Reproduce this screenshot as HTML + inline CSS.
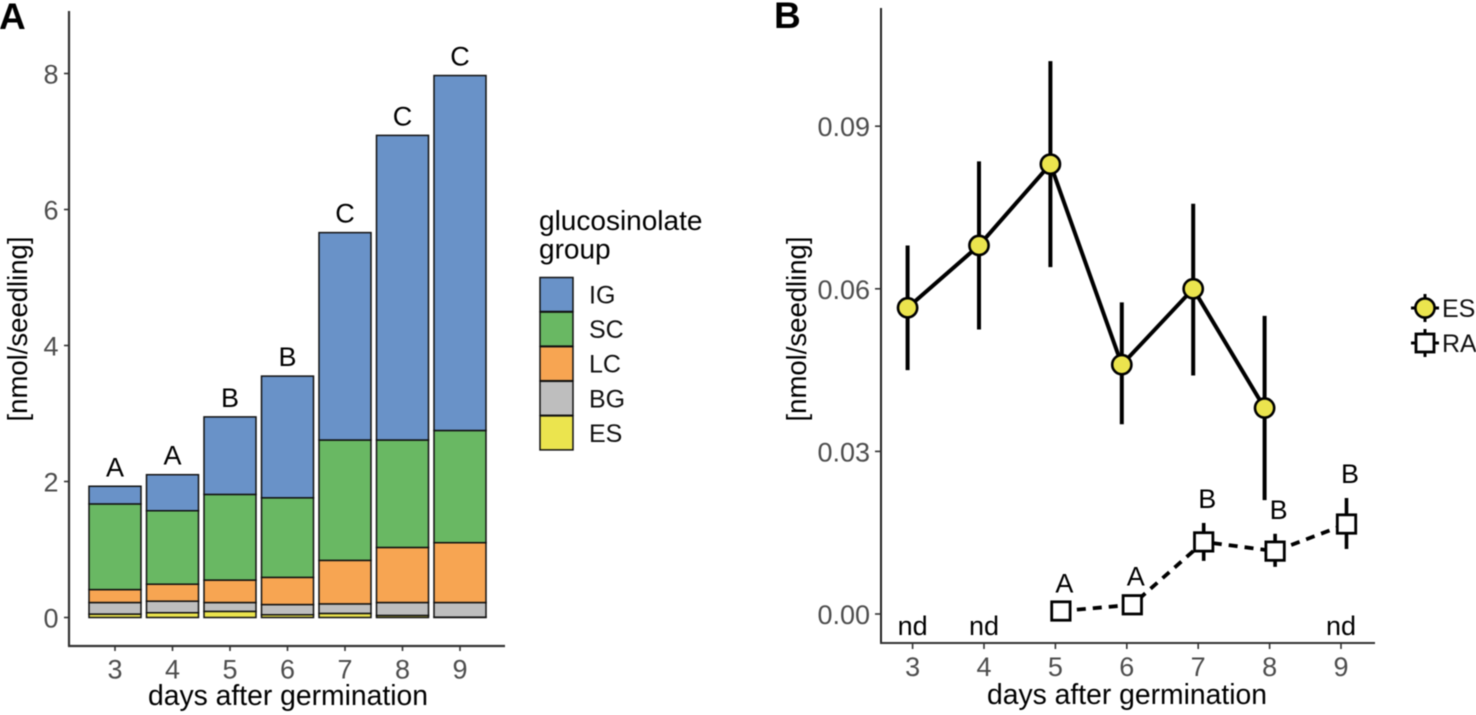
<!DOCTYPE html>
<html>
<head>
<meta charset="utf-8">
<style>
html,body{margin:0;padding:0;background:#fff;width:1476px;height:715px;overflow:hidden}
svg{display:block;font-family:"Liberation Sans",sans-serif;filter:blur(0.45px)}
</style>
</head>
<body>
<svg id="fig" width="1476" height="715" viewBox="0 0 1476 715" xmlns="http://www.w3.org/2000/svg"></svg>
<script>
// Panel A data
const days = [3, 4, 5, 6, 7, 8, 9];
const groupNames = ["ES", "BG", "LC", "SC", "IG"];
const valuesES = [0.05, 0.07, 0.09, 0.04, 0.06, 0.03, 0.005];
const valuesBG = [0.17, 0.17, 0.13, 0.15, 0.14, 0.19, 0.215];
const valuesLC = [0.19, 0.25, 0.33, 0.40, 0.64, 0.81, 0.88];
const valuesSC = [1.26, 1.08, 1.26, 1.17, 1.77, 1.58, 1.65];
const valuesIG = [0.26, 0.53, 1.14, 1.79, 3.05, 4.48, 5.22];
const barLetters = ["A", "A", "B", "B", "C", "C", "C"];
const ticksA = [0, 2, 4, 6, 8];
// Panel B data
const esDays = [3, 4, 5, 6, 7, 8];
const esMean = [0.0565, 0.068, 0.083, 0.046, 0.060, 0.038];
const esLow = [0.045, 0.0525, 0.064, 0.035, 0.044, 0.021];
const esHigh = [0.068, 0.0835, 0.102, 0.0575, 0.0757, 0.055];
const raDays = [5, 6, 7, 8, 9];
const raMean = [0.00055, 0.0017, 0.0133, 0.0116, 0.0166];
const raLow = [0.0002, 0.0015, 0.0098, 0.0087, 0.0120];
const raHigh = [0.00116, 0.00245, 0.0168, 0.0148, 0.0214];
const raLetters = ["A", "A", "B", "B", "B"];
const ticksB = [0, 0.03, 0.06, 0.09];
const ndDays = [3, 4, 9];

const svg = document.getElementById('fig');
const NS = 'http://www.w3.org/2000/svg';
const colors = {ES:'#ebe44e', BG:'#bebebe', LC:'#f7a552', SC:'#69b863', IG:'#6992c8'};
const seriesByGroup = {ES:valuesES, BG:valuesBG, LC:valuesLC, SC:valuesSC, IG:valuesIG};

const xA = d => 115 + (d - 3) * 57.5;
const yA = v => 617.5 - v * 68;
const xB = d => 912.6 + (d - 3) * 71.4;
const yB = v => 614 - v * 5420;

function make(tag, attrs, text){
  const el = document.createElementNS(NS, tag);
  for (const k in attrs) el.setAttribute(k, attrs[k]);
  if (text !== undefined) el.textContent = text;
  svg.appendChild(el);
  return el;
}
function line(x1, y1, x2, y2, color, width){
  return make('line', {x1, y1, x2, y2, stroke:color, 'stroke-width':width});
}
function label(x, y, str, size, color, anchor, weight){
  return make('text', {x, y, 'font-size':size, fill:color, 'text-anchor':anchor || 'middle', 'font-weight':weight || 'normal'}, str);
}
let el;

// Panel letters
el = label(-1, 29, 'A', 37, '#000', 'start', 'bold');


el = label(774, 28, 'B', 37, '#000', 'start', 'bold');



// Panel A bars
const barW = 52;
days.forEach((d, i) => {
  let base = 0;
  groupNames.forEach(g => {
    const v = seriesByGroup[g][i];
    const top = base + v;
    el = make('rect', {x:xA(d) - barW / 2, y:yA(top), width:barW, height:yA(base) - yA(top), fill:colors[g], stroke:'#111', 'stroke-width':1.5});
    
    
    base = top;
  });
  el = label(xA(d), yA(base) - 10, barLetters[i], 27, '#000');
  
  
});

// Panel A axes
el = line(69, 11, 69, 646.5, '#333', 2.2);


el = line(68, 646, 505, 646, '#333', 2.2);


ticksA.forEach(t => {
  el = line(64, yA(t), 69, yA(t), '#333', 1.6);
  
  
  el = label(58.5, yA(t) + 10, String(t), 27, '#4d4d4d', 'end');
  
  
});
days.forEach(d => {
  el = line(xA(d), 646, xA(d), 651, '#333', 1.6);
  
  
  el = label(xA(d), 678.5, String(d), 27, '#4d4d4d');
  
  
});
el = label(288, 705, 'days after germination', 28.3, '#000');


el = label(0, 0, '[nmol/seedling]', 27.5, '#000');
el.setAttribute('transform', 'translate(27,329) rotate(-90)');



// Panel A legend
el = label(539, 230, 'glucosinolate', 28, '#000', 'start');


el = label(539, 258.5, 'group', 28, '#000', 'start');


["IG", "SC", "LC", "BG", "ES"].forEach((g, i) => {
  const top = 277.5 + i * 34.6;
  el = make('rect', {x:540, y:top, width:33, height:34, fill:colors[g], stroke:'#111', 'stroke-width':1.5});
  
  
  el = label(589, top + 26, g, 25, '#111', 'start');
  
  
});

// Panel B axes
el = line(881, 8, 881, 644, '#222', 2);


el = line(880, 643, 1375, 643, '#333', 2);


ticksB.forEach(t => {
  el = line(875, yB(t), 881, yB(t), '#333', 1.6);
  
  
  el = label(870, yB(t) + 10, t.toFixed(2), 27, '#4d4d4d', 'end');
  
  
});
days.forEach(d => {
  el = line(xB(d), 643, xB(d), 649, '#333', 1.6);
  
  
  el = label(xB(d), 676, String(d), 27, '#4d4d4d');
  
  
});
el = label(1127, 704, 'days after germination', 28.3, '#000');


el = label(0, 0, '[nmol/seedling]', 27.5, '#000');
el.setAttribute('transform', 'translate(806,329) rotate(-90)');



// Panel B RA series (dashed)
const dodgeRA = 5.5;
const dodgeES = -5;
el = make('polyline', {points:raDays.map((d, i) => (xB(d) + dodgeRA) + ',' + yB(raMean[i])).join(' '), fill:'none', stroke:'#000', 'stroke-width':3.8, 'stroke-dasharray':'9 7'});


raDays.forEach((d, i) => {
  const x = xB(d) + dodgeRA;
  el = line(x, yB(raLow[i]), x, yB(raHigh[i]), '#000', 3.6);
  
  
  el = make('rect', {x:x - 9.2, y:yB(raMean[i]) - 9.2, width:18.4, height:18.4, fill:'#fff', stroke:'#000', 'stroke-width':2.8});
  
  
  el = label(x + 3.5, yB(raHigh[i]) - 15, raLetters[i], 27, '#000');
  
  
});

// Panel B ES series
el = make('polyline', {points:esDays.map((d, i) => (xB(d) + dodgeES) + ',' + yB(esMean[i])).join(' '), fill:'none', stroke:'#000', 'stroke-width':4});


esDays.forEach((d, i) => {
  const x = xB(d) + dodgeES;
  el = line(x, yB(esLow[i]), x, yB(esHigh[i]), '#000', 4);
  
  
  el = make('circle', {cx:x, cy:yB(esMean[i]), r:9.6, fill:'#ebe44e', stroke:'#000', 'stroke-width':2.6});
  
  
});

// nd labels
ndDays.forEach(d => {
  el = label(xB(d), 635, 'nd', 27, '#000');
  
  
});

// Panel B legend
el = line(1425, 294, 1425, 322, '#000', 3);


el = line(1411, 308, 1439, 308, '#000', 3);


el = make('circle', {cx:1425, cy:308, r:9.6, fill:'#ebe44e', stroke:'#000', 'stroke-width':2.6});


el = label(1442, 317, 'ES', 25, '#111', 'start');


el = line(1425, 329, 1425, 357, '#000', 3);


el = line(1411, 343, 1439, 343, '#000', 3);


el = make('rect', {x:1416, y:334, width:18, height:18, fill:'#fff', stroke:'#000', 'stroke-width':2.8});


el = label(1442, 352, 'RA', 25, '#111', 'start');


</script>
</body>
</html>
